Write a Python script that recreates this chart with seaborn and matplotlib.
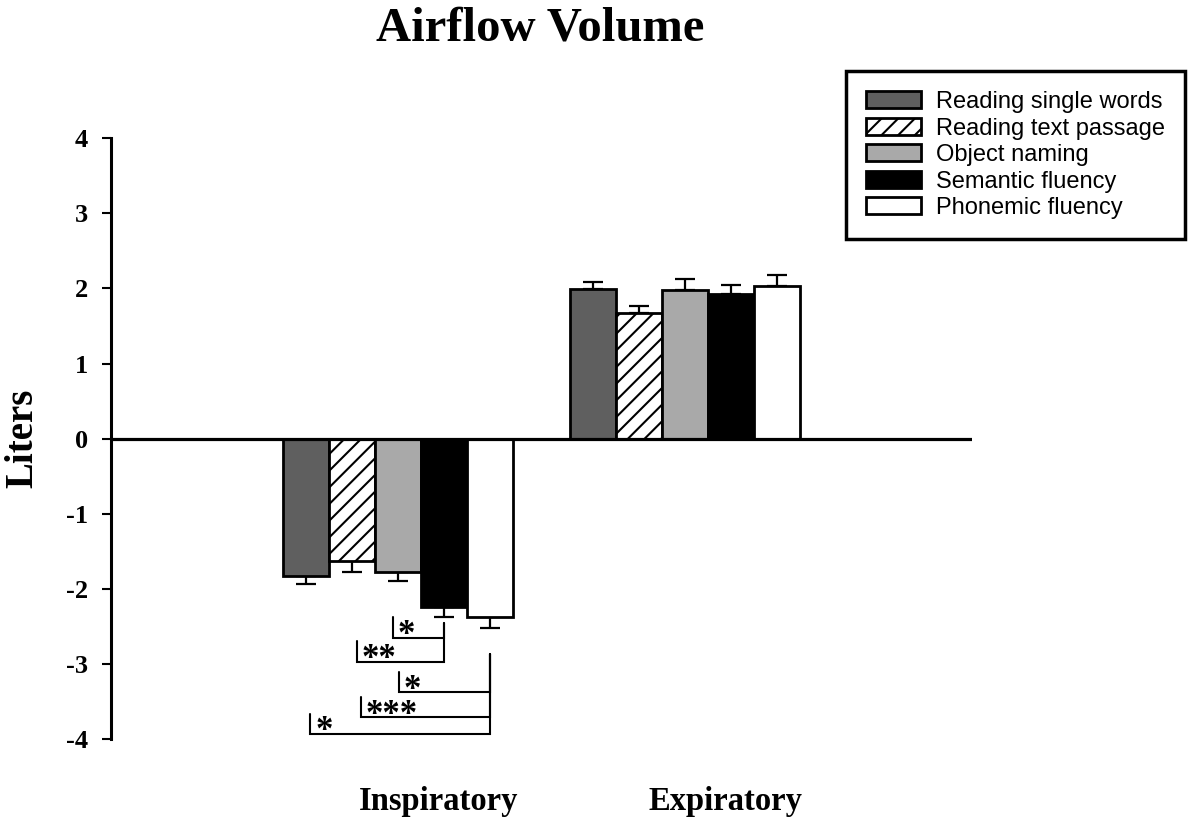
import matplotlib
matplotlib.use("Agg")
import matplotlib.pyplot as plt
import pandas as pd
import seaborn as sns

# data (liters, mean and SE)
phases = ["Inspiratory", "Expiratory"]
tasks = ["Reading single words", "Reading text passage", "Object naming",
         "Semantic fluency", "Phonemic fluency"]
insp_mean = [-1.83, -1.63, -1.78, -2.24, -2.37]
insp_err = [0.11, 0.14, 0.11, 0.13, 0.15]
exp_mean = [1.99, 1.67, 1.98, 1.92, 2.03]
exp_err = [0.10, 0.09, 0.14, 0.12, 0.15]

# significance brackets on the inspiratory bars:
# (bar a, bar b, line level, top of right leg, stars, nudge of left leg)
brackets = [(2, 3, -2.65, -2.46, "*", -0.017),
            (1, 3, -2.97, -2.46, "**", 0.017),
            (2, 4, -3.38, -2.87, "*", 0.003),
            (1, 4, -3.71, -2.87, "***", 0.031),
            (0, 4, -3.93, -2.87, "*", 0.014)]

colors = ["#5f5f5f", "white", "#a9a9a9", "black", "white"]

sns.set_style("ticks")
plt.rcParams["hatch.linewidth"] = 1.5
for k in ["text.color", "axes.labelcolor", "xtick.color", "ytick.color", "axes.edgecolor"]:
    plt.rcParams[k] = "black"
serif = "Liberation Serif"

rows = []
for i, t in enumerate(tasks):
    rows.append({"phase": phases[0], "task": t, "value": insp_mean[i]})
    rows.append({"phase": phases[1], "task": t, "value": exp_mean[i]})
df = pd.DataFrame(rows)

fig = plt.figure(figsize=(11.93, 8.23), dpi=100)
ax = fig.add_axes([0.093, 0.102, 0.722, 0.730])

sns.barplot(data=df, x="phase", y="value", hue="task", order=phases, hue_order=tasks,
            palette=dict(zip(tasks, colors)), saturation=1, edgecolor="black",
            linewidth=2, errorbar=None, width=0.8, legend=False, ax=ax)

bar_groups = list(ax.containers)
for b in bar_groups[1].patches:
    b.set_hatch("//")

# one-sided error bars (away from zero)
for i, cont in enumerate(bar_groups):
    xs = [b.get_x() + b.get_width() / 2 for b in cont.patches]
    ax.errorbar(xs[0], insp_mean[i], yerr=[[insp_err[i]], [0]], fmt="none",
                ecolor="black", elinewidth=1.6, capsize=7, capthick=1.6, zorder=0.5)
    ax.errorbar(xs[1], exp_mean[i], yerr=[[0], [exp_err[i]]], fmt="none",
                ecolor="black", elinewidth=1.6, capsize=7, capthick=1.6, zorder=0.5)

ax.axhline(0, color="black", lw=2.3, zorder=3)

# significance brackets
insp_x = [cont.patches[0].get_x() + cont.patches[0].get_width() / 2 for cont in bar_groups]
for a, b, lvl, top, stars, nudge in brackets:
    xa, xb = insp_x[a] + nudge, insp_x[b]
    ax.plot([xa, xa, xb, xb], [lvl + 0.27, lvl, lvl, top], color="black", lw=1.5,
            solid_joinstyle="miter", clip_on=False)
    ax.annotate(stars, (xa, lvl), xytext=(3.5, -4.5), textcoords="offset points",
                ha="left", va="baseline", fontsize=25, fontweight="bold", family=serif)

ax.set_xlim(-1, 2)
ax.set_ylim(-4, 4)
ax.set_yticks(range(-4, 5))
ax.set_xticks([0.14, 1.14])
ax.set_xticklabels(phases, fontsize=23.5, fontweight="bold", family=serif)
ax.set_yticklabels([str(v) for v in range(-4, 5)], fontsize=19, fontweight="bold", family=serif)
ax.tick_params(axis="x", length=0, pad=34)
ax.tick_params(axis="y", direction="out", length=6.5, width=1.5, pad=10)
for s in ["top", "right", "bottom"]:
    ax.spines[s].set_visible(False)
ax.spines["left"].set_linewidth(2.2)
ax.set_xlabel("")
ax.set_ylabel("")

fig.text(0.453, 0.951, "Airflow Volume", ha="center", va="baseline",
         fontsize=35, fontweight="bold", family=serif)
fig.text(0.019, 0.467, "Liters", ha="center", va="center", rotation=90,
         fontsize=28, fontweight="bold", family=serif)

handles = [cont.patches[0] for cont in bar_groups]
leg = fig.legend(handles, tasks, loc="upper right", bbox_to_anchor=(1185 / 1193, 1 - 71 / 823),
                 borderaxespad=0, frameon=True, fancybox=False, edgecolor="black",
                 prop={"family": "Liberation Sans", "size": 17}, handlelength=2.3,
                 handleheight=0.72, labelspacing=0.19, handletextpad=0.65, borderpad=0.85)
leg.get_frame().set_linewidth(2.5)
leg.get_frame().set_alpha(1)

fig.savefig("out.png", dpi=100)
